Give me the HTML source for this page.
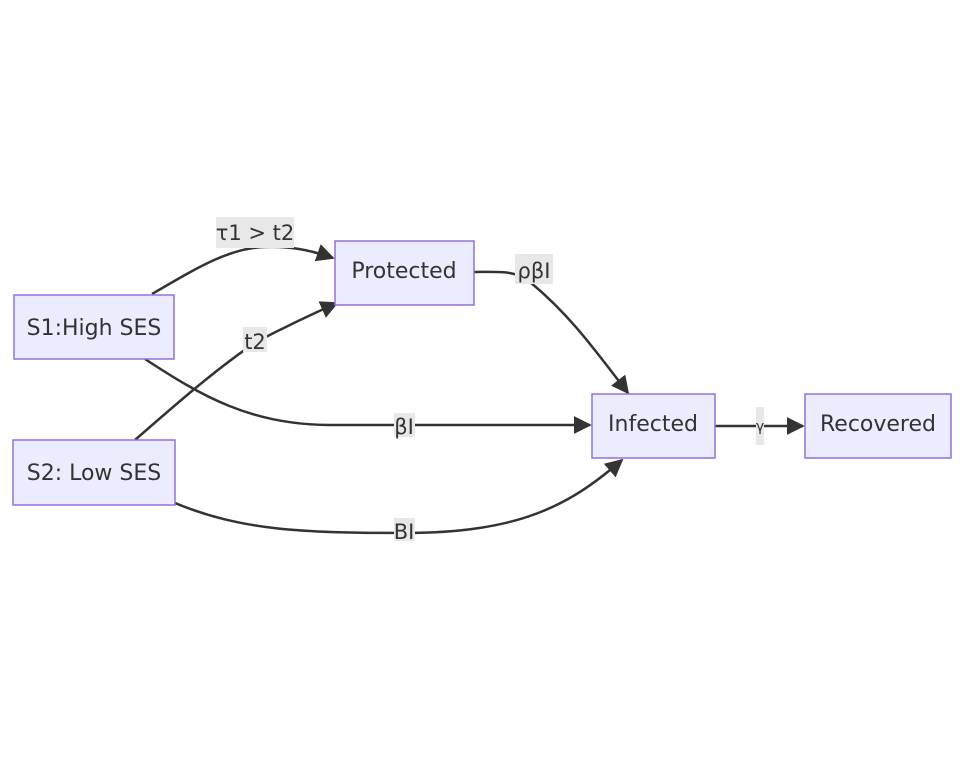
<!DOCTYPE html>
<html><head><style>
body{margin:0;background:#fff;}
svg text{font-family:"DejaVu Sans","Liberation Sans",sans-serif;fill:#333;}
</style></head><body>
<svg width="964" height="772" viewBox="0 0 964 772" xmlns="http://www.w3.org/2000/svg">
<defs>
<marker id="b" viewBox="0 0 10 10" refX="9" refY="5" markerWidth="18" markerHeight="18" orient="auto" markerUnits="userSpaceOnUse"><path d="M0,0L10,5L0,10z" fill="#333"/></marker></defs>
<g fill="none" stroke="#333" stroke-width="2.5">
<path d="M152,294 C200,266 230,248 265,247 C290,246 310,250 333,258" marker-end="url(#b)"/>
<path d="M135,440 C175,405 215,370 256,342 C285,327 310,315 337,303" marker-end="url(#b)"/>
<path d="M145,359 C200,395 250,425 330,425 L590,425" marker-end="url(#b)"/>
<path d="M175,503 C240,530 300,533 405,533 C520,533 570,505 622,460" marker-end="url(#b)"/>
<path d="M474,272 C500,272 515,270 530,282 C570,315 595,350 628,393" marker-end="url(#b)"/>
<path d="M715,426 L803,426" marker-end="url(#b)"/>
</g>
<g fill="#e8e8e8">
<rect x="216" y="217" width="78" height="31"/>
<rect x="243" y="327" width="24" height="25"/>
<rect x="394" y="413" width="21" height="24"/>
<rect x="394" y="518" width="21" height="23"/>
<rect x="515" y="254" width="38" height="30"/>
<rect x="756" y="407" width="8" height="38"/>
</g>
<g font-size="21" text-anchor="middle">
<text x="255" y="240">τ1 &gt; t2</text>
<text x="255" y="349">t2</text>
<text x="404" y="434">βI</text>
<text x="404" y="539">BI</text>
<text x="534" y="278">ρβI</text>
<text x="760" y="431" font-size="14">γ</text>
</g>
<g fill="#ececff" stroke="#9370db" stroke-width="1.5">
<rect x="14" y="295" width="160" height="64"/>
<rect x="13" y="440" width="162" height="65"/>
<rect x="335" y="241" width="139" height="64"/>
<rect x="592" y="394" width="123" height="64"/>
<rect x="805" y="394" width="146" height="64"/>
</g>
<g font-size="22" text-anchor="middle">
<text x="94" y="335">S1:High SES</text>
<text x="94" y="480">S2: Low SES</text>
<text x="404" y="278">Protected</text>
<text x="653" y="431">Infected</text>
<text x="878" y="431">Recovered</text>
</g>
</svg>
</body></html>
